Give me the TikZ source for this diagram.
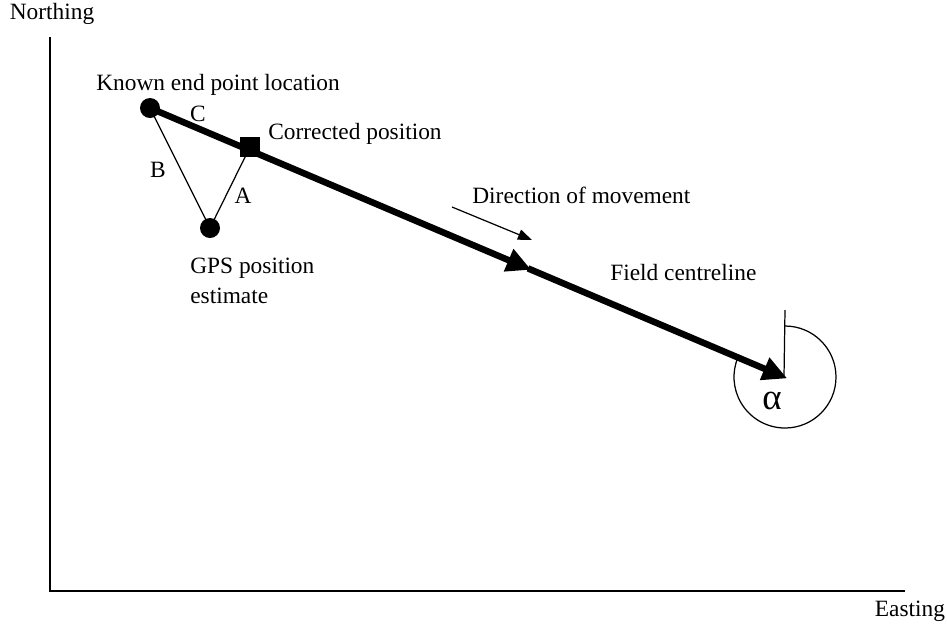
\documentclass[tikz,border=0pt]{standalone}
\usepackage{fontspec}
\setmainfont{Liberation Serif}
\usetikzlibrary{arrows.meta}
\begin{document}
\begin{tikzpicture}[x=0.02cm,y=-0.02cm,
  lbl/.style={inner sep=0pt,font=\fontsize{13.3}{17}\selectfont},
  dot/.style={circle,fill=black,minimum size=20*0.02cm,inner sep=0pt},
  sq/.style={rectangle,fill=black,minimum size=20*0.02cm,inner sep=0pt},
  thin line/.style={line width=0.7pt},
  thickline/.style={line width=3.7pt},
  bigtip/.style={-{Triangle[length=14pt,width=13pt]}}]
\useasboundingbox (0,0) rectangle (947,627);
% axes
\coordinate (ytop) at (50,37);
\coordinate (origin) at (50,591);
\coordinate (xend) at (905,591);
\draw[thin line] (ytop) -- (origin) -- (xend);
\node[lbl] (north) at (52,14) {Northing};
\node[lbl] (east) at (910,611) {Easting};
% points
\node[dot] (known) at (150,108) {};
\node[dot] (gps) at (210,228) {};
\coordinate (mid) at (528,268.4);
\coordinate (tip) at (784,377);
% triangle
\draw[thin line] (known.center) -- (gps.center) -- (250,147);
% centreline
\draw[thickline,bigtip,shorten >=-2pt] (known.center) -- (mid);
\draw[thickline,bigtip,shorten >=-2pt] (mid) -- (tip);
\node[sq] (corr) at (250,147) {};
% angle
\coordinate (vtop) at (785,310);
\draw[thin line] (tip) -- (vtop);
\draw[thin line] (785,326) arc[start angle=-90,end angle=203,radius=51];
\node[lbl,font=\fontsize{21}{24}\selectfont] (alpha) at (772,401) {α};
% direction arrow
\coordinate (d1) at (452,207);
\coordinate (d2) at (532,240);
\draw[thin line,-{Triangle[length=8pt,width=6pt]}] (d1) -- (d2);
% labels
\node[lbl] (knownlbl) at (218,85) {Known end point location};
\node[lbl] (C) at (198,114) {C};
\node[lbl] (B) at (158,170) {B};
\node[lbl] (A) at (243,196) {A};
\node[lbl,anchor=west] (corrlbl) at (268,134) {Corrected position};
\node[lbl,anchor=west,align=left] (gpslbl) at (190,281) {GPS position\\estimate};
\node[lbl,anchor=west] (dirlbl) at (472,195) {Direction of movement};
\node[lbl,anchor=west] (fieldlbl) at (610,272) {Field centreline};
\end{tikzpicture}
\end{document}
